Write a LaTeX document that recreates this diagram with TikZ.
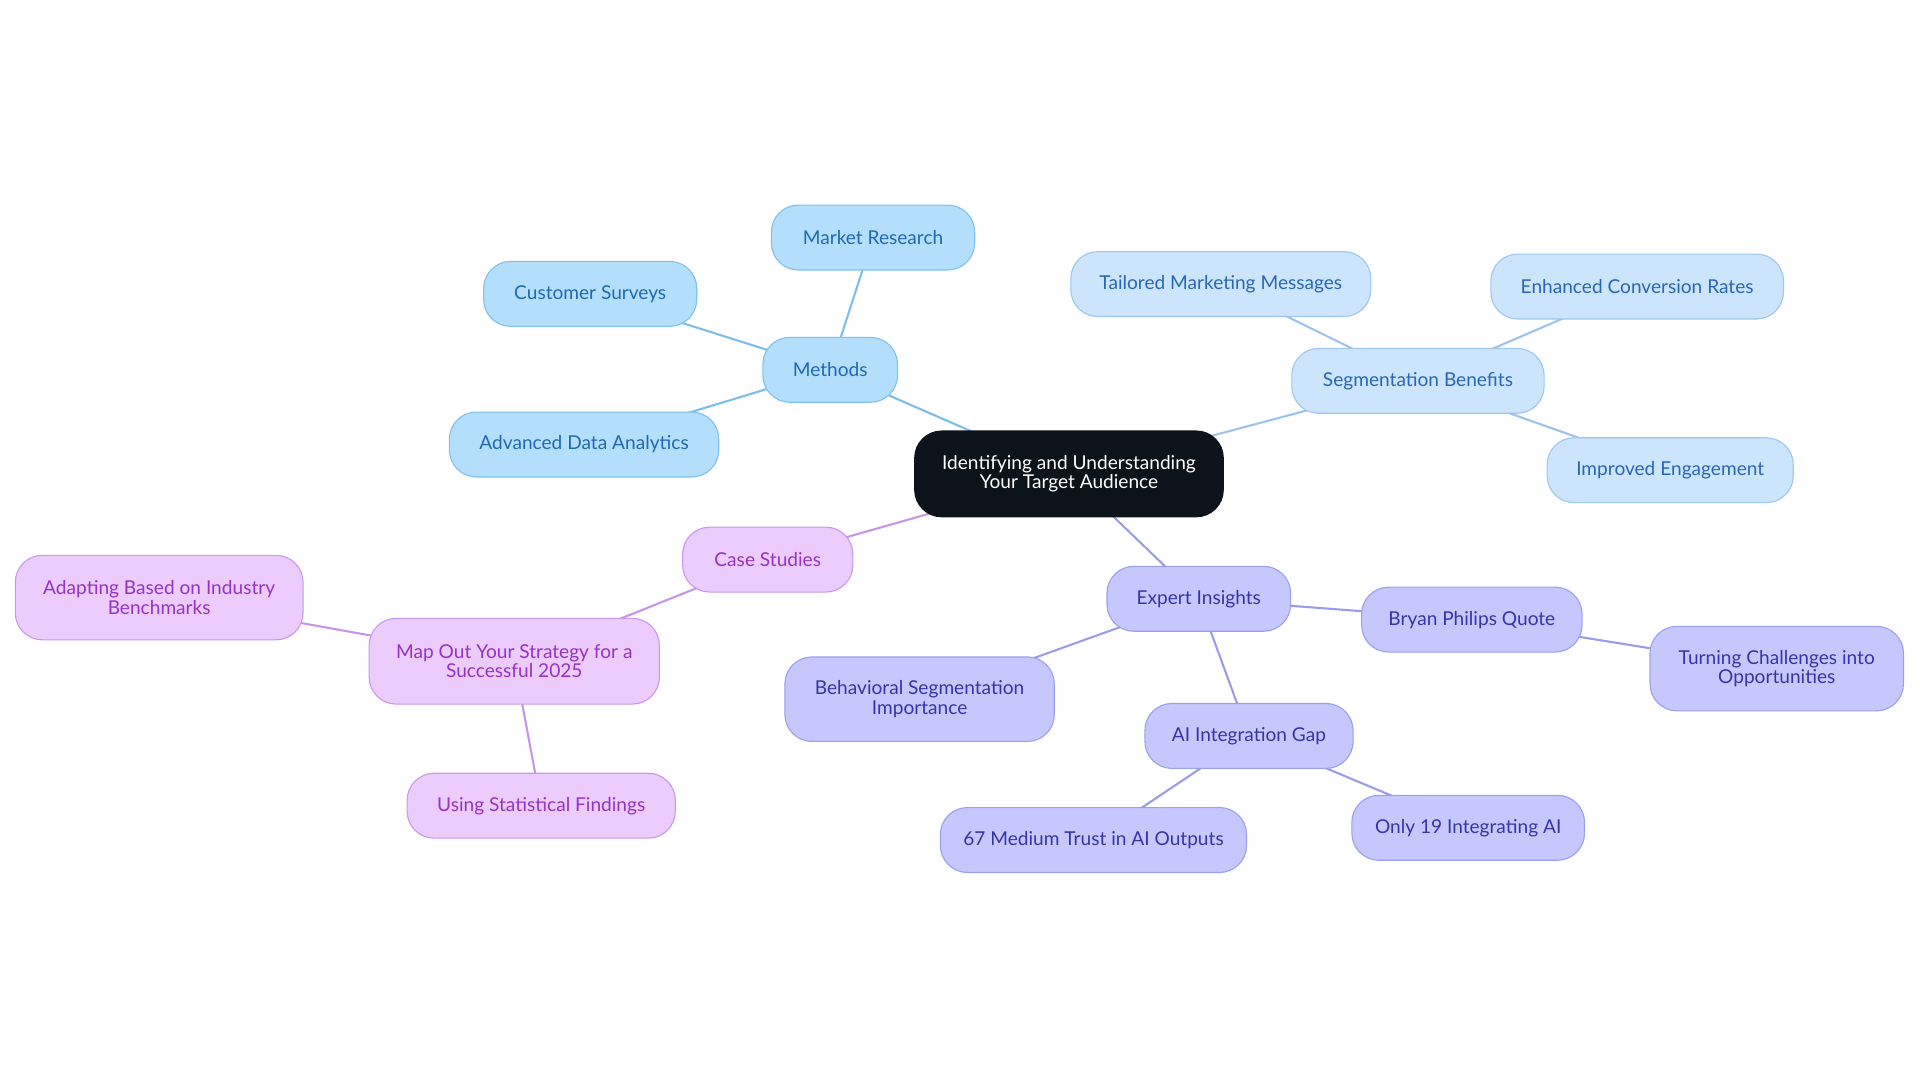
\documentclass[tikz,border=0pt]{standalone}
\usepackage{fontspec}
\setmainfont{Lato}
\usetikzlibrary{backgrounds}
\definecolor{ctrfill}{HTML}{0D131A}
\definecolor{bAfill}{HTML}{B3DFFD}
\definecolor{bAdraw}{HTML}{80C0EE}
\definecolor{bAtext}{HTML}{1F6AB0}
\definecolor{bAline}{HTML}{7DBDE8}
\definecolor{bBfill}{HTML}{CCE5FC}
\definecolor{bBdraw}{HTML}{9EC6EE}
\definecolor{bBtext}{HTML}{2A66B5}
\definecolor{bBline}{HTML}{9DC3EB}
\definecolor{iFill}{HTML}{C6C8FD}
\definecolor{iDraw}{HTML}{9A9FF0}
\definecolor{iText}{HTML}{3535A8}
\definecolor{iLine}{HTML}{9A9CE8}
\definecolor{pFill}{HTML}{ECCBFD}
\definecolor{pDraw}{HTML}{C898EE}
\definecolor{pText}{HTML}{9533C4}
\definecolor{pLine}{HTML}{C894E6}
\tikzset{
  mm/.style={draw, rounded corners=22pt, line width=0.9pt, align=center,
    font=\fontsize{15.6}{16}\selectfont, inner sep=0pt},
  ctr/.style={mm, fill=ctrfill, draw=ctrfill, text=white},
  blA/.style={mm, fill=bAfill, draw=bAdraw, text=bAtext},
  blB/.style={mm, fill=bBfill, draw=bBdraw, text=bBtext},
  ind/.style={mm, fill=iFill, draw=iDraw, text=iText},
  pur/.style={mm, fill=pFill, draw=pDraw, text=pText},
  eA/.style={line width=1.7pt, draw=bAline},
  eB/.style={line width=1.7pt, draw=bBline},
  eI/.style={line width=1.7pt, draw=iLine},
  eP/.style={line width=1.7pt, draw=pLine},
}
\begin{document}
\begin{tikzpicture}[x=1pt, y=-1pt]
\useasboundingbox (0,0) rectangle (1568,884.4);
% center
\node[ctr, minimum width=252, minimum height=70] (c) at (873,387) {Identifying and Understanding\\Your Target Audience};
% methods branch
\node[blA, minimum width=110, minimum height=53] (meth) at (678,302) {Methods};
\node[blA, minimum width=166, minimum height=53] (mr) at (713,194) {Market Research};
\node[blA, minimum width=174, minimum height=53] (cs) at (482,240) {Customer Surveys};
\node[blA, minimum width=220, minimum height=53] (ada) at (477,363) {Advanced Data Analytics};
% segmentation branch
\node[blB, minimum width=206, minimum height=53] (seg) at (1158,311) {Segmentation Benefits};
\node[blB, minimum width=245, minimum height=53] (tmm) at (997,232) {Tailored Marketing Messages};
\node[blB, minimum width=239, minimum height=53] (ecr) at (1337,234) {Enhanced Conversion Rates};
\node[blB, minimum width=201, minimum height=53] (ie) at (1364,384) {Improved Engagement};
% expert branch
\node[ind, minimum width=150, minimum height=53] (ei) at (979,489) {Expert Insights};
\node[ind, minimum width=180, minimum height=53] (bpq) at (1202,506) {Bryan Philips Quote};
\node[ind, minimum width=207, minimum height=69] (tco) at (1451,546) {Turning Challenges into\\Opportunities};
\node[ind, minimum width=220, minimum height=69] (bsi) at (751,571) {Behavioral Segmentation\\Importance};
\node[ind, minimum width=170, minimum height=53] (aig) at (1020,601) {AI Integration Gap};
\node[ind, minimum width=250, minimum height=53] (mt) at (893,686) {67 Medium Trust in AI Outputs};
\node[ind, minimum width=190, minimum height=53] (o19) at (1199,676) {Only 19 Integrating AI};
% case studies branch
\node[pur, minimum width=139, minimum height=53] (cst) at (627,457) {Case Studies};
\node[pur, minimum width=237, minimum height=70] (map) at (420,540) {Map Out Your Strategy for a\\Successful 2025};
\node[pur, minimum width=235, minimum height=69] (abi) at (130,488) {Adapting Based on Industry\\Benchmarks};
\node[pur, minimum width=219, minimum height=53] (usf) at (442,658) {Using Statistical Findings};
\begin{scope}[on background layer]
\draw[eA] (c.center) -- (meth.center);
\draw[eA] (meth.center) -- (mr.center);
\draw[eA] (meth.center) -- (cs.center);
\draw[eA] (meth.center) -- (ada.center);
\draw[eB] (c.center) -- (seg.center);
\draw[eB] (seg.center) -- (tmm.center);
\draw[eB] (seg.center) -- (ecr.center);
\draw[eB] (seg.center) -- (ie.center);
\draw[eI] (c.center) -- (ei.center);
\draw[eI] (ei.center) -- (bpq.center);
\draw[eI] (bpq.center) -- (tco.center);
\draw[eI] (ei.center) -- (bsi.center);
\draw[eI] (ei.center) -- (aig.center);
\draw[eI] (aig.center) -- (mt.center);
\draw[eI] (aig.center) -- (o19.center);
\draw[eP] (c.center) -- (cst.center);
\draw[eP] (cst.center) -- (map.center);
\draw[eP] (map.center) -- (abi.center);
\draw[eP] (map.center) -- (usf.center);
\end{scope}
\end{tikzpicture}
\end{document}
